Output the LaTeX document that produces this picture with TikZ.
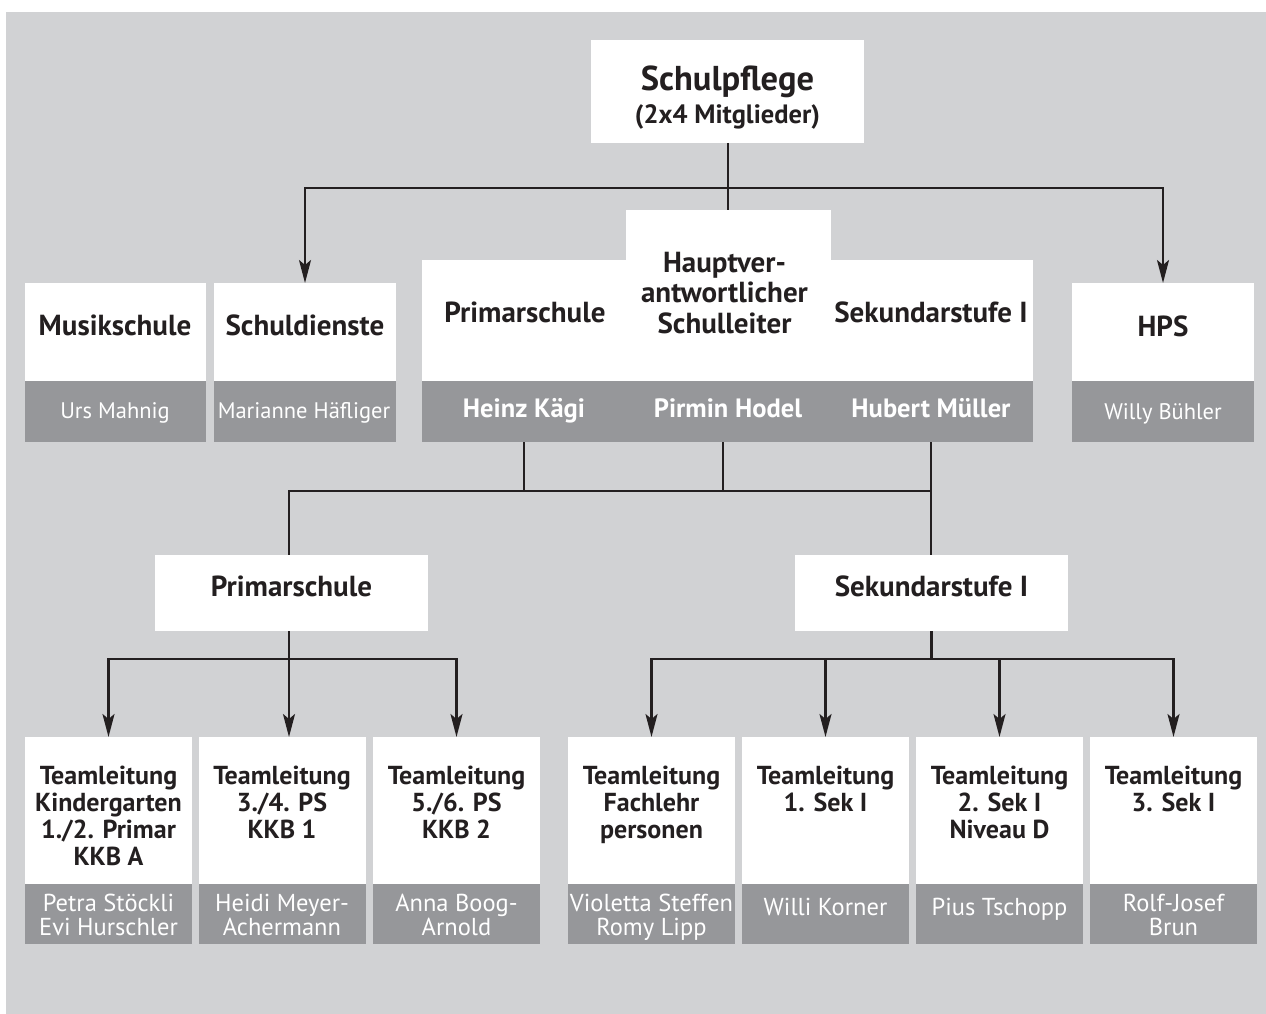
\documentclass[tikz,border=0pt]{standalone}
\usepackage{fontspec}
\setmainfont{PT Sans}
\usetikzlibrary{arrows.meta}
\definecolor{bgc}{RGB}{209,210,212}
\definecolor{barc}{RGB}{150,151,154}
\definecolor{txt}{RGB}{35,31,32}
\pgfdeclarelayer{behind}
\pgfsetlayers{behind,main}
\begin{document}
\begin{tikzpicture}[x=1pt,y=-1pt,
  wbox/.style={fill=white,draw=none,inner sep=0pt,outer sep=0pt},
  gbar/.style={fill=barc,draw=none,inner sep=0pt,outer sep=0pt},
  lbl/.style={font=\fontsize{29}{30.5}\selectfont\bfseries,text=txt,align=center,inner sep=0pt,anchor=base},
  lbls/.style={lbl,font=\fontsize{26}{27}\selectfont\bfseries},
  nm/.style={font=\fontsize{22.5}{23.5}\selectfont,text=white,align=center,inner sep=0pt,anchor=base},
  nml/.style={nm,font=\fontsize{24.5}{23.3}\selectfont},
  nmb/.style={nm,font=\fontsize{26.5}{28}\selectfont\bfseries},
  conn/.style={line width=2.3pt,draw=txt},
  arr/.style={conn,-{Stealth[length=23pt,width=12pt,inset=5pt]}}]
\useasboundingbox (0,0) rectangle (1266,1014);
\fill[bgc] (6,12) rectangle (1266,1014);
% top
\node[wbox,minimum width=273pt,minimum height=103pt] (sp) at (727.5,91.5) {};
\node[wbox,minimum width=205pt,minimum height=60pt] (hvtop) at (728.5,240) {};
\node[wbox,minimum width=611pt,minimum height=121pt] (bigw) at (727.5,320.5) {};
\node[gbar,minimum width=611pt,minimum height=61pt] (bigg) at (727.5,411.5) {};
\node[wbox,minimum width=181pt,minimum height=98pt] (musw) at (115.5,332) {};
\node[gbar,minimum width=181pt,minimum height=61pt] (musg) at (115.5,411.5) {};
\node[wbox,minimum width=182pt,minimum height=98pt] (schw) at (305,332) {};
\node[gbar,minimum width=182pt,minimum height=61pt] (schg) at (305,411.5) {};
\node[wbox,minimum width=182pt,minimum height=98pt] (hpsw) at (1163,332) {};
\node[gbar,minimum width=182pt,minimum height=61pt] (hpsg) at (1163,411.5) {};
% middle
\node[wbox,minimum width=273pt,minimum height=76pt] (prim) at (291.5,593) {};
\node[wbox,minimum width=273pt,minimum height=76pt] (sek) at (931.5,593) {};
% bottom
\foreach \n/\x in {b1/108.5,b2/282,b3/456.5,b4/651.5,b5/825.5,b6/999.5,b7/1173.5}{
  \node[wbox,minimum width=167pt,minimum height=147pt] (\n) at (\x,810.5) {};
  \node[gbar,minimum width=167pt,minimum height=60pt] (\n g) at (\x,914) {};
}
% texts
\node[lbl,font=\fontsize{34.5}{36}\selectfont\bfseries] (tsp1) at (727.5,91) {Schulpflege};
\node[lbl,font=\fontsize{26.5}{28}\selectfont\bfseries] (tsp2) at (727.5,124) {(2x4 Mitglieder)};
\node[lbl] (tmus) at (115,335) {Musikschule};
\node[lbl] (tsch) at (305,335) {Schuldienste};
\node[lbl] (thps) at (1163,336) {HPS};
\node[lbl] (tprim0) at (525,322) {Primarschule};
\node[lbl] (tsek0) at (931,322) {Sekundarstufe I};
\node[lbl] (thv) at (724.5,333) {Hauptver-\\antwortlicher\\Schulleiter};
\node[nm] (urs) at (115,418) {Urs Mahnig};
\node[nm] (mar) at (304,418) {Marianne Häfliger};
\node[nm] (wil) at (1163,419) {Willy Bühler};
\node[nmb] (heinz) at (524,417) {Heinz Kägi};
\node[nmb] (pirmin) at (728,417) {Pirmin Hodel};
\node[nmb] (hubert) at (931,417) {Hubert Müller};
\node[lbl] (tprim) at (291.5,596) {Primarschule};
\node[lbl] (tsek) at (931.5,596) {Sekundarstufe I};
\node[lbls] (t1) at (108.5,865) {Teamleitung\\Kindergarten\\1./2. Primar\\KKB A};
\node[lbls] (t2) at (282,838) {Teamleitung\\3./4. PS\\KKB 1};
\node[lbls] (t3) at (456.5,838) {Teamleitung\\5./6. PS\\KKB 2};
\node[lbls] (t4) at (651.5,838) {Teamleitung\\Fachlehr\\personen};
\node[lbls] (t5) at (825.5,811) {Teamleitung\\1. Sek I};
\node[lbls] (t6) at (999.5,838) {Teamleitung\\2. Sek I\\Niveau D};
\node[lbls] (t7) at (1173.5,811) {Teamleitung\\3. Sek I};
\node[nml] (n1) at (108.5,935) {Petra Stöckli\\Evi Hurschler};
\node[nml] (n2) at (282,935) {Heidi Meyer-\\Achermann};
\node[nml] (n3) at (456.5,935) {Anna Boog-\\Arnold};
\node[nml] (n4) at (651.5,935) {Violetta Steffen\\Romy Lipp};
\node[nml] (n5) at (825.5,915) {Willi Korner};
\node[nml] (n6) at (999.5,915) {Pius Tschopp};
\node[nml] (n7) at (1173.5,935) {Rolf-Josef\\Brun};
% connectors
\coordinate (j1) at (728,188);
\coordinate (j2) at (931,491);
\coordinate (jp) at (289,659);
\coordinate (js) at (931.5,659);
\coordinate (hp) at (723,442);
\coordinate (dl) at (0,817);
\begin{pgfonlayer}{behind}
\draw[conn] (b1 |- dl) -- (b3 |- dl);
\draw[conn] (b4 |- dl) -- (b7 |- dl);
\end{pgfonlayer}
\draw[conn] (sp.south -| j1) -- (hvtop.north -| j1);
\draw[arr] (j1) -| (schw.north);
\draw[arr] (j1) -| (hpsw.north);
\draw[conn] (heinz |- bigg.south) -- (heinz |- j2);
\draw[conn] (hp) -- (hp |- j2);
\draw[conn] (hubert |- bigg.south) -- (sek.north -| hubert);
\draw[conn] (j2) -| (prim.north -| jp);
\draw[conn] (prim.south -| jp) -- (jp);
\draw[arr] (jp) -| (b1.north);
\draw[arr] (jp) -- (b2.north -| jp);
\draw[arr] (jp) -| (b3.north);
\draw[conn] (sek.south) -- (js);
\draw[arr] (js) -| (b4.north);
\draw[arr] (js) -| (b5.north);
\draw[arr] (js) -| (b6.north);
\draw[arr] (js) -| (b7.north);
\end{tikzpicture}
\end{document}
